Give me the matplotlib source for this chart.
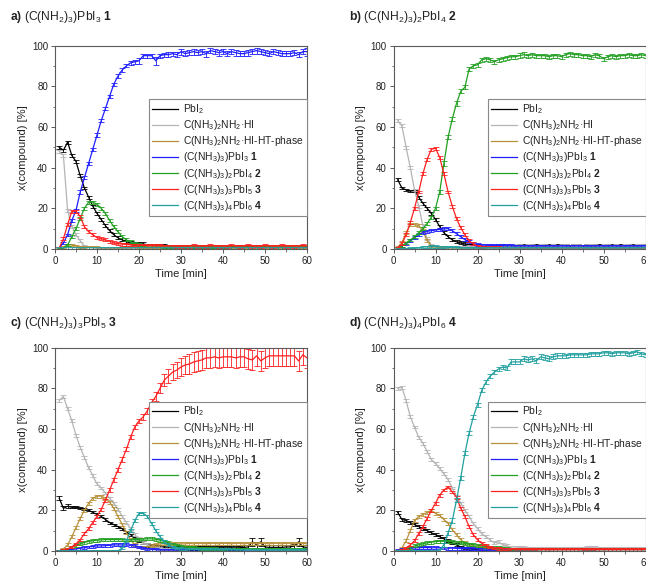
import numpy as np
import matplotlib
matplotlib.use("Agg")
import matplotlib.pyplot as plt
from matplotlib.ticker import AutoMinorLocator

plt.rcParams['font.family'] = ['Liberation Sans', 'DejaVu Sans']
plt.rcParams['mathtext.fontset'] = 'custom'
plt.rcParams['mathtext.rm'] = 'Liberation Sans'
plt.rcParams['mathtext.it'] = 'Liberation Sans:italic'
plt.rcParams['mathtext.bf'] = 'Liberation Sans:bold'

# time axis: one pattern per minute
t = np.arange(1, 61)

labels = [r'PbI$_2$',
          r'C(NH$_3$)$_2$NH$_2$·HI',
          r'C(NH$_3$)$_2$NH$_2$·HI-HT-phase',
          r'(C(NH$_3$)$_3$)PbI$_3$ $\mathbf{1}$',
          r'(C(NH$_3$)$_3$)$_2$PbI$_4$ $\mathbf{2}$',
          r'(C(NH$_3$)$_3$)$_3$PbI$_5$ $\mathbf{3}$',
          r'(C(NH$_3$)$_3$)$_4$PbI$_6$ $\mathbf{4}$']
colors = ['#000000', '#b4b4b4', '#b8913a', '#1f1fff', '#22a022', '#ff2020', '#22a0a0']

titles = [r'$\mathbf{a)}$ (C(NH$_2$)$_3$)PbI$_3$ $\mathbf{1}$',
          r'$\mathbf{b)}$ (C(NH$_2$)$_3$)$_2$PbI$_4$ $\mathbf{2}$',
          r'$\mathbf{c)}$ (C(NH$_2$)$_3$)$_3$PbI$_5$ $\mathbf{3}$',
          r'$\mathbf{d)}$ (C(NH$_2$)$_3$)$_4$PbI$_6$ $\mathbf{4}$']

# ---- panel a ----
a_pbi2 = [50, 48.5, 52.5, 46, 43, 36, 30, 25.5, 21, 17.5,
          14.5, 11.5, 9, 7, 5.5, 4.5, 3.5, 3, 2.5, 2.5,
          2.5, 2, 2, 2, 1.8, 1.8, 1.5, 1.5, 1.5, 1.5,
          1.5, 1.3, 1.5, 1.5, 1.3, 1.3, 1.5, 1.3, 1.5, 1.3,
          1.3, 1.5, 1.3, 1.3, 1.5, 1.3, 1.3, 1.5, 1.3, 1.3,
          1.5, 1.3, 1.3, 1.5, 1.3, 1.3, 1.5, 1.3, 1.5, 1.5]
a_hi = [48, 46, 19, 11, 7, 4, 1.5, 0.8, 0.5, 0.4,
        0.3, 0.3, 0.3, 0.3, 0.3, 0.3, 0.3, 0.3, 0.3, 0.3,
        0.3, 0.3, 0.3, 0.3, 0.3, 0.3, 0.3, 0.3, 0.3, 0.3,
        0.3, 0.3, 0.3, 0.3, 0.3, 0.3, 0.3, 0.3, 0.3, 0.3,
        0.3, 0.3, 0.3, 0.3, 0.3, 0.3, 0.3, 0.3, 0.3, 0.3,
        0.3, 0.3, 0.3, 0.3, 0.3, 0.3, 0.3, 0.3, 0.3, 0.3]
a_ht = [0.5, 1, 2, 2, 1.5, 1, 1, 0.8, 0.8, 0.6,
        0.5, 0.5, 0.5, 0.5, 0.5, 0.5, 0.6, 0.6, 0.8, 1,
        1, 1.2, 1.2, 1.3, 1.2, 1.3, 1.3, 1.5, 1.3, 1.2,
        1.2, 1.3, 1.2, 1.2, 1.3, 1.2, 1.2, 1.3, 1.2, 1.2,
        1.2, 1.3, 1.2, 1.2, 1.3, 1.2, 1.2, 1.3, 1.2, 1.2,
        1.2, 1.3, 1.2, 1.2, 1.3, 1.2, 1.2, 1.3, 1.2, 1.2]
a_p1 = [0.5, 3, 7, 14, 19, 28, 35, 42, 49, 56,
        63, 69, 75, 81, 85, 88, 90, 91.5, 92, 92.5,
        95, 95, 95, 92.5, 95, 95.5, 95.5, 96, 95.5, 97,
        96, 96.5, 97, 96.5, 97, 96, 97.5, 97, 96.5, 97,
        96, 97, 96.5, 96, 96, 96.5, 97, 97.5, 97, 96.5,
        96, 97, 96.5, 96, 96, 96, 96.5, 95.5, 97, 97]
a_p2 = [0, 0.5, 2, 6, 10, 15, 20, 23, 23, 22,
        20, 17.5, 14, 11, 8.5, 6, 4.5, 3.5, 2.5, 2.2,
        2, 1.8, 1.6, 1.5, 1.5, 1.4, 1.3, 1.3, 1.2, 1.2,
        1.1, 1.1, 1.1, 1.1, 1.0, 1.0, 1.0, 1.0, 1.0, 1.0,
        1.0, 0.9, 0.9, 0.9, 0.9, 0.9, 0.9, 0.9, 0.9, 0.9,
        0.8, 0.8, 0.8, 0.8, 0.8, 0.8, 0.8, 0.8, 0.8, 0.8]
a_p3 = [0.5, 5, 12, 18.5, 18.5, 16, 11, 8.5, 7, 5.6,
        5, 4.5, 3.8, 3, 2.6, 2.4, 2.2, 2, 2, 1.8,
        1.8, 1.7, 1.7, 1.6, 1.6, 1.5, 1.5, 1.5, 1.4, 1.4,
        1.5, 1.4, 1.6, 1.4, 1.5, 1.4, 1.6, 1.5, 1.4, 1.5,
        1.4, 1.6, 1.5, 1.4, 1.5, 1.6, 1.4, 1.5, 1.4, 1.6,
        1.5, 1.4, 1.5, 1.6, 1.4, 1.5, 1.4, 1.5, 1.6, 1.5]
a_p4 = [0.2] * 60
a_p1_err = [0.5, 0.6, 0.6, 0.8, 0.8, 0.8, 0.8, 0.8, 0.8, 0.8,
            0.8, 0.8, 0.8, 0.8, 0.8, 0.8, 0.8, 1, 1, 1.5,
            1, 1, 1, 2, 1, 1, 1.2, 1, 1.2, 1.5,
            1.2, 1.2, 1.5, 1.2, 1.2, 1.5, 1.2, 1.2, 1.5, 1.2,
            1.2, 1.2, 1.5, 1.2, 1.2, 1.5, 1.2, 1.5, 1.2, 1.2,
            1.2, 1.2, 1.2, 1.2, 1.2, 1.2, 1.2, 1.2, 1.2, 2]

# ---- panel b ----
b_pbi2 = [34, 30, 29, 28.5, 28.5, 25.5, 22.5, 20, 17.5, 14.5,
          11, 8, 6, 4.5, 3.5, 3, 2.5, 2, 1.8, 1.6,
          1.5, 1.5, 1.5, 1.5, 1.6, 1.5, 1.5, 1.6, 1.5, 1.7,
          1.6, 1.5, 1.7, 1.6, 1.5, 1.6, 1.7, 1.5, 1.6, 1.7,
          1.6, 1.5, 1.6, 1.7, 1.5, 1.6, 1.5, 1.7, 1.6, 1.5,
          1.6, 1.7, 1.5, 1.6, 1.5, 1.6, 1.7, 1.5, 1.6, 1.6]
b_hi = [63, 60.5, 50, 40, 29, 21, 11.5, 5, 2, 1,
        0.8, 0.6, 0.5, 0.5, 0.6, 0.8, 1, 1.2, 1.3, 1.4,
        1.5, 1.5, 1.6, 1.5, 1.7, 1.6, 1.5, 1.6, 1.7, 1.6,
        1.5, 1.6, 1.7, 1.5, 1.6, 1.7, 1.5, 1.6, 1.5, 1.7,
        1.6, 1.5, 1.6, 1.7, 1.5, 1.6, 1.7, 1.6, 1.5, 1.6,
        1.7, 1.5, 1.6, 1.5, 1.7, 1.6, 1.5, 1.6, 1.7, 1.6]
b_ht = [1, 3, 8, 12, 12, 11.5, 9, 4, 1.5, 1,
        0.8, 0.6, 0.5, 0.5, 0.5, 0.5, 0.5, 0.5, 0.5, 0.5,
        0.5, 0.5, 0.5, 0.6, 0.5, 0.5, 0.6, 0.5, 0.5, 0.6,
        0.5, 0.5, 0.6, 0.5, 0.5, 0.6, 0.5, 0.5, 0.6, 0.5,
        0.5, 0.6, 0.5, 0.5, 0.6, 0.5, 0.5, 0.6, 0.5, 0.5,
        0.6, 0.5, 0.5, 0.6, 0.5, 0.5, 0.6, 0.5, 0.5, 0.5]
b_p1 = [0.5, 1.5, 2.5, 4, 5.5, 7, 8, 8.7, 9, 9.3,
        9.6, 9.9, 10, 9, 7.5, 6, 4.6, 3.5, 2.6, 2.2,
        2, 1.9, 1.8, 1.8, 1.7, 1.7, 1.6, 1.6, 1.5, 1.5,
        1.5, 1.5, 1.5, 1.5, 1.5, 1.5, 1.5, 1.5, 1.5, 1.5,
        1.5, 1.5, 1.5, 1.5, 1.5, 1.5, 1.5, 1.5, 1.5, 1.5,
        1.5, 1.5, 1.5, 1.5, 1.5, 1.5, 1.5, 1.5, 1.5, 1.5]
b_p2 = [0.5, 1.5, 3, 4.5, 6, 8, 10, 12.5, 15.5, 20,
        28, 42, 55, 64, 71.5, 77.5, 79.5, 88.5, 90, 90.5,
        93, 93.5, 93, 92, 93, 93.5, 94, 94.5, 94.5, 95,
        95.5, 95, 95.5, 95, 95, 95, 94.5, 95, 95, 94.5,
        95.5, 96, 95.5, 95.5, 95, 95, 94.5, 95.5, 95, 93.5,
        94.5, 95, 94.5, 95, 95, 95.5, 95, 95, 95.5, 95]
b_p3 = [0.5, 2.5, 7, 13, 20, 28, 37, 44, 49, 49.5,
        45, 37, 28, 21, 15, 10.5, 7, 4, 2.5, 1.5,
        1, 0.8, 0.7, 0.6, 0.6, 0.5, 0.5, 0.5, 0.5, 0.5,
        0.5, 0.5, 0.5, 0.5, 0.5, 0.5, 0.5, 0.5, 0.5, 0.5,
        0.5, 0.5, 0.5, 0.5, 0.5, 0.5, 0.5, 0.5, 0.5, 0.5,
        0.5, 0.5, 0.5, 0.5, 0.5, 0.5, 0.5, 0.5, 0.5, 0.5]
b_p4 = [0, 0, 0, 0.2, 0.3, 0.5, 1, 1, 1.2, 1.2,
        1, 1, 0.8, 0.7, 0.6, 0.5, 0.5, 0.5, 0.5, 0.5,
        0.5, 0.5, 0.5, 0.5, 0.5, 0.5, 0.5, 0.5, 0.5, 0.5,
        0.5, 0.5, 0.5, 0.5, 0.5, 0.5, 0.5, 0.5, 0.5, 0.5,
        0.5, 0.5, 0.5, 0.5, 0.5, 0.5, 0.5, 0.5, 0.5, 0.5,
        0.5, 0.5, 0.5, 0.5, 0.5, 0.5, 0.5, 0.5, 0.5, 0.5]
b_p2_err = [0.5, 0.5, 0.6, 0.6, 0.8, 0.8, 0.8, 0.8, 0.8, 0.8,
            1, 1, 1, 1, 1, 1, 1, 1, 1, 1,
            1, 1, 1, 1, 1, 1, 1, 1, 1, 1.2,
            1.2, 1, 1, 1, 1, 1, 1, 1, 1, 1,
            1, 1, 1, 1, 1, 1, 1, 1, 1, 1,
            1, 1, 1, 1, 1, 1, 1, 1, 1, 1]

# ---- panel c ----
c_pbi2 = [26, 21, 22, 21.5, 21.5, 21, 20.5, 20, 19, 18,
          17, 15.5, 14, 13, 12, 11, 9.5, 8, 6.5, 5,
          4, 3, 2.5, 2, 1.8, 1.6, 1.5, 1.5, 1.5, 1.5,
          1.5, 1.5, 1.5, 1.6, 1.5, 1.5, 1.5, 1.6, 1.5, 1.6,
          1.5, 1.6, 1.5, 1.6, 1.8, 2, 4.5, 3, 4.5, 2,
          1.8, 1.8, 1.8, 1.8, 2, 2, 2.5, 4.5, 2, 1.8]
c_hi = [74, 76, 70, 64, 57, 51, 46, 41, 37, 33,
        31, 28.5, 26, 23.5, 20.5, 17, 14, 11, 8, 6,
        4, 3, 2, 1.5, 1.2, 1, 1, 1, 0.9, 0.9,
        0.8, 0.8, 0.8, 0.8, 0.8, 0.8, 0.8, 0.8, 0.8, 0.8,
        0.8, 0.8, 0.8, 0.8, 0.8, 0.8, 0.8, 0.8, 0.8, 0.8,
        0.8, 0.8, 0.8, 0.8, 0.8, 0.8, 0.8, 0.8, 0.8, 0.8]
c_ht = [0, 1, 3, 7, 11.5, 16, 20, 23.5, 26, 27,
        27, 26, 24, 21, 17, 13, 9, 5.5, 3, 2,
        2, 2, 2.5, 3, 3.5, 3.5, 3.5, 3.5, 3.5, 3.5,
        3.5, 3.8, 3.5, 3.8, 3.8, 3.5, 3.8, 3.8, 3.5, 3.8,
        3.8, 3.5, 3.8, 3.8, 3.5, 3.8, 3.8, 3.5, 3.8, 3.8,
        3.5, 3.8, 3.8, 3.5, 3.8, 3.8, 3.5, 3.8, 3.8, 3.5]
c_p1 = [0, 0.3, 0.5, 0.8, 1, 1.3, 1.6, 2, 2.2, 2.5,
        2.5, 2.6, 2.8, 3, 3, 3, 3, 2.8, 2.5, 2,
        1.5, 1, 0.8, 0.6, 0.5, 0.5, 0.5, 0.5, 0.5, 0.5,
        0.5, 0.5, 0.5, 0.5, 0.5, 0.5, 0.5, 0.5, 0.5, 0.5,
        0.5, 0.5, 0.5, 0.5, 0.5, 0.5, 0.5, 0.5, 0.5, 0.5,
        0.5, 0.5, 0.5, 0.5, 0.5, 0.5, 0.5, 0.5, 0.5, 0.5]
c_p2 = [0, 0.5, 1, 2, 2.8, 3.5, 4.2, 4.7, 5, 5.3,
        5.5, 5.6, 5.6, 5.6, 5.6, 5.5, 5.4, 5.4, 5.5, 5.7,
        5.9, 6, 6, 5.8, 5.3, 4.7, 4, 3.3, 2.8, 2.3,
        2, 1.8, 1.6, 1.5, 1.4, 1.3, 1.2, 1.1, 1, 1,
        0.9, 0.9, 0.9, 0.8, 0.8, 0.8, 0.8, 0.7, 0.7, 0.7,
        0.7, 0.7, 0.6, 0.6, 0.6, 0.6, 0.6, 0.6, 0.6, 0.6]
c_p3 = [0, 0.5, 1, 2, 3.5, 5.5, 8.5, 11, 14, 17,
        20.5, 25, 30, 35, 40, 45, 50, 56, 61, 64,
        66, 69, 73, 76, 80, 84, 86, 88, 89, 90.5,
        91.5, 92, 93, 93.5, 94, 95, 95, 95.5, 95, 95.5,
        95.5, 95.5, 95, 95.5, 95.5, 94.5, 94, 96, 93.5, 95,
        96, 96, 96, 96, 96, 96, 96, 93.5, 96.5, 95]
c_p4 = [0, 0, 0, 0, 0, 0, 0, 0, 0, 0,
        0, 0, 0, 0, 0, 1.5, 5, 10, 15, 18.5,
        18.5, 17, 13.5, 10, 7, 4.5, 3, 2, 1.5, 1.2,
        1, 0.9, 0.8, 0.8, 0.7, 0.7, 0.7, 0.6, 0.6, 0.6,
        0.6, 0.6, 0.5, 0.5, 0.5, 0.5, 0.5, 0.5, 0.5, 0.5,
        0.5, 0.5, 0.5, 0.5, 0.5, 0.5, 0.5, 0.5, 0.5, 0.5]
c_p3_err = [0.5, 0.5, 0.5, 0.6, 0.6, 0.6, 0.8, 0.8, 0.8, 0.8,
            0.8, 0.8, 1, 1, 1, 1, 1, 1, 1, 1,
            1.5, 1.5, 2, 2, 2.5, 3, 3.5, 4, 4, 4.5,
            4.5, 5, 5, 5, 5, 5, 5, 5, 5, 5,
            5, 5, 5, 5, 5, 5, 5, 5, 5, 5,
            5, 5, 5, 5, 5, 5, 5, 5, 5, 5]
c_pbi2_err = [1, 1, 1, 0.5, 0.5, 0.5, 0.5, 0.5, 0.5, 0.5,
              0.5, 0.5, 0.5, 0.5, 0.5, 0.5, 0.5, 0.5, 0.5, 0.5,
              0.8, 0.8, 0.8, 0.8, 1, 1, 1, 1, 1, 1,
              1, 1, 1, 1, 1, 1, 1, 1, 1, 1,
              1, 1, 1, 1, 1, 1, 2, 1.5, 2, 1,
              1, 1, 1, 1, 1, 1, 1, 2, 1, 1]

# ---- panel d ----
d_pbi2 = [19, 15.5, 15, 14, 13, 12, 11, 10, 9, 8,
          7, 6, 5, 4, 3, 2, 1.5, 1, 0.8, 0.6,
          0.5, 0.5, 0.5, 0.5, 0.5, 0.5, 0.5, 0.5, 0.5, 0.5,
          0.5, 0.5, 0.5, 0.5, 0.5, 0.5, 0.5, 0.5, 0.5, 0.5,
          0.5, 0.5, 0.5, 0.5, 0.5, 0.5, 0.5, 0.5, 0.5, 0.5,
          0.5, 0.5, 0.5, 0.5, 0.5, 0.5, 0.5, 0.5, 0.5, 0.5]
d_hi = [80, 80.5, 74, 66, 61, 56, 53, 49, 45, 43,
        40.5, 38, 35, 31, 27, 23.5, 20, 17, 13.5, 11,
        8.5, 7, 5.5, 4, 4.5, 3, 2.5, 2, 2, 1.8,
        1.6, 1.5, 1.5, 1.5, 1.4, 1.4, 1.5, 1.4, 1.3, 1.3,
        1.3, 1.3, 1.3, 1.4, 1.5, 1.8, 1.8, 1.6, 1.4, 1.3,
        1.3, 1.3, 1.3, 1.4, 1.3, 1.3, 1.4, 1.3, 1.3, 1.3]
d_ht = [0, 1.5, 5, 10, 15, 17, 18, 19, 20, 18.5,
        17.5, 15.5, 13.5, 10.5, 8, 5.5, 4, 3, 2.5, 2,
        1.8, 1.5, 1.3, 1.2, 1, 1, 0.9, 0.9, 0.8, 0.8,
        0.7, 0.7, 0.7, 0.7, 0.7, 0.7, 0.7, 0.7, 0.7, 0.7,
        0.7, 0.7, 0.7, 0.7, 0.7, 0.7, 0.7, 0.7, 0.7, 0.7,
        0.7, 0.7, 0.7, 0.7, 0.7, 0.7, 0.7, 0.7, 0.7, 0.7]
d_p1 = [0.3, 0.6, 1, 1.3, 1.5, 1.6, 1.7, 1.7, 1.6, 1.6,
        1.5, 1.5, 1.4, 1.4, 1.3, 1.2, 1.2, 1.1, 1.1, 1,
        1, 1, 1, 1, 0.9, 0.9, 0.9, 0.9, 0.9, 0.9,
        0.9, 0.9, 0.9, 0.9, 0.8, 0.8, 0.8, 0.8, 0.8, 0.8,
        0.8, 0.8, 0.8, 0.8, 0.8, 0.8, 0.8, 0.8, 0.8, 0.8,
        0.8, 0.8, 0.8, 0.8, 0.8, 0.8, 0.8, 0.8, 0.8, 0.8]
d_p2 = [0, 0.5, 1, 1.8, 2.5, 3, 3.5, 4, 4.3, 4.6,
        4.8, 4.8, 4.7, 4.5, 4.3, 4, 3.7, 3.4, 3.1, 2.8,
        2.5, 2.3, 2, 1.8, 1.6, 1.4, 1.2, 1, 0.9, 0.8,
        0.8, 0.8, 0.8, 0.8, 0.8, 0.8, 0.8, 0.8, 0.8, 0.8,
        0.8, 0.8, 0.8, 0.8, 0.8, 0.8, 0.8, 0.8, 0.8, 0.8,
        0.8, 0.8, 0.8, 0.8, 0.8, 0.8, 0.8, 0.8, 0.8, 0.8]
d_p3 = [0, 0.5, 1.5, 3, 5, 8.5, 12, 16, 20, 23.5,
        27.5, 30, 31.5, 29, 26.5, 21, 17, 12, 8, 5.5,
        3.8, 2.8, 2, 1.5, 1.2, 1, 1, 0.9, 0.9, 0.8,
        0.8, 0.8, 0.8, 0.8, 0.8, 0.8, 0.8, 0.8, 0.8, 0.8,
        0.8, 0.8, 0.8, 0.8, 0.8, 0.8, 0.8, 0.8, 0.8, 0.8,
        0.8, 0.8, 0.8, 0.8, 0.8, 0.8, 0.8, 0.8, 0.8, 0.8]
d_p4 = [0, 0, 0, 0, 0, 0, 0, 0, 0, 0,
        0.5, 3, 9, 15, 25, 36, 48, 58, 66, 72,
        79, 83, 86, 88, 89.5, 90.5, 90, 93, 93, 93,
        94.5, 94, 94.5, 93.5, 95.5, 95, 94.5, 95.5, 96, 96,
        96, 96.5, 96.5, 96.5, 96.5, 96.5, 97, 97, 97, 97.5,
        97.5, 97, 97.5, 97.5, 97.5, 97, 97.5, 98, 97, 96.5]
d_p4_err = [0.3, 0.3, 0.3, 0.3, 0.3, 0.3, 0.3, 0.3, 0.3, 0.3,
            0.5, 0.8, 1, 1, 1, 1, 1, 1, 1, 1,
            1, 1, 1, 1, 1, 1, 1.2, 1.2, 1.2, 1.2,
            1.2, 1.2, 1.2, 1.2, 1.2, 1.2, 1.2, 1.2, 1.2, 1.2,
            1, 1, 1, 1, 1, 1, 1, 1, 1, 1,
            1, 1, 1, 1, 1, 1, 1, 1, 1, 1]

ERR_SMALL = 0.7

panels = [
    ([a_pbi2, a_hi, a_ht, a_p1, a_p2, a_p3, a_p4], {3: a_p1_err}),
    ([b_pbi2, b_hi, b_ht, b_p1, b_p2, b_p3, b_p4], {4: b_p2_err}),
    ([c_pbi2, c_hi, c_ht, c_p1, c_p2, c_p3, c_p4], {5: c_p3_err, 0: c_pbi2_err}),
    ([d_pbi2, d_hi, d_ht, d_p1, d_p2, d_p3, d_p4], {6: d_p4_err}),
]

W, H = 646, 582
fig = plt.figure(figsize=(W / 100, H / 100), dpi=100)

# axes boxes in pixels: left, top, right, bottom
boxes = [(55, 45.5, 307, 249), (393.5, 45.5, 645.5, 249),
         (55, 347.7, 307, 551), (393.5, 347.7, 645.5, 551)]
title_pos = [(10, 17), (349, 17), (10, 323), (349, 323)]
spine_col = '#5a5a5a'

for i, (series, errs) in enumerate(panels):
    l, tp, r, b = boxes[i]
    ax = fig.add_axes([l / W, 1 - b / H, (r - l) / W, (b - tp) / H])
    for k, y in enumerate(series):
        e = errs.get(k, ERR_SMALL)
        ax.errorbar(t, y, yerr=e, fmt='none', ecolor=colors[k], elinewidth=0.6,
                    capsize=2, capthick=0.6)
        ax.plot(t, y, color=colors[k], lw=0.9, label=labels[k])
    ax.set_xlim(0, 60)
    ax.set_ylim(0, 100)
    ax.set_xticks([0, 10, 20, 30, 40, 50, 60])
    ax.set_yticks([0, 20, 40, 60, 80, 100])
    ax.xaxis.set_minor_locator(AutoMinorLocator(2))
    ax.yaxis.set_minor_locator(AutoMinorLocator(2))
    ax.tick_params(which='major', direction='out', length=3, width=0.7,
                   labelsize=7, colors=spine_col, labelcolor='#222222', pad=2)
    ax.tick_params(which='minor', direction='out', length=1.8, width=0.6, colors=spine_col)
    for s in ax.spines.values():
        s.set_color(spine_col)
        s.set_linewidth(0.8)
    ax.set_xlabel('Time [min]', fontsize=8, color='#222222', labelpad=2)
    ax.set_ylabel('x(compound) [%]', fontsize=8, color='#222222', labelpad=3)
    leg = ax.legend(loc='upper right', bbox_to_anchor=(1.0, 0.735), borderaxespad=0,
                    fontsize=7.4, fancybox=False, framealpha=1, edgecolor='#888888',
                    handlelength=2.5, handletextpad=0.5, labelspacing=0.2, borderpad=0.3)
    leg.get_frame().set_linewidth(0.8)
    for txt in leg.get_texts():
        txt.set_color('#222222')
    tx, ty = title_pos[i]
    fig.text(tx / W, 1 - ty / H, titles[i], fontsize=8.7, va='center', ha='left',
             color='#222222')

fig.savefig('out.png', dpi=100)
